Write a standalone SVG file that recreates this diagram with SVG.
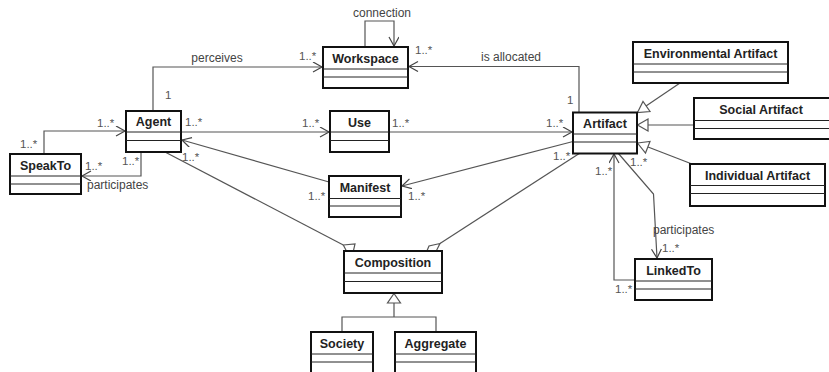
<svg xmlns="http://www.w3.org/2000/svg" width="829" height="372" viewBox="0 0 829 372">
<style>
.box{fill:#fff;stroke:#111;stroke-width:2}
.sep{stroke:#222;stroke-width:1}
.name{font-family:"Liberation Sans",Arial,sans-serif;font-weight:bold;font-size:12.5px;fill:#222;text-anchor:middle}
.lbl{font-family:"Liberation Sans",Arial,sans-serif;font-size:12px;fill:#444}
.mul{font-family:"Liberation Sans",Arial,sans-serif;font-size:11.5px;fill:#555}
.ln{fill:none;stroke:#555;stroke-width:1.2}
.gen{fill:#fff;stroke:#555;stroke-width:1.2}
</style>
<defs>
<marker id="open" markerWidth="12" markerHeight="12" refX="10" refY="5" orient="auto" markerUnits="userSpaceOnUse">
<path d="M1,0 L10,5 L1,10" fill="none" stroke="#444" stroke-width="1.2"/>
</marker>
</defs>
<rect width="829" height="372" fill="#fff"/>
<g id="connectors">
<path class="ln" d="M153,111 V67 H322" marker-end="url(#open)"/>
<path class="ln" d="M365,47 V21 H394 V46" marker-end="url(#open)"/>
<path class="ln" d="M579,112.5 V66.5 H409" marker-end="url(#open)"/>
<path class="ln" d="M181,132 H329" marker-end="url(#open)"/>
<path class="ln" d="M389,132 H572" marker-end="url(#open)"/>
<path class="ln" d="M329,182 L182,140" marker-end="url(#open)"/>
<path class="ln" d="M573,141.5 L402,186" marker-end="url(#open)"/>
<path class="ln" d="M165,152 L343.3,245"/>
<polygon class="gen" points="343.3,245 355,244 353.3,251.5 346.7,251.5"/>
<path class="ln" d="M580,153 L440,243.5"/>
<polygon class="gen" points="440,243.5 429,246 426.7,251.5 436,251.5"/>
<path class="ln" d="M618,153 L653.5,194 L657,258" marker-end="url(#open)"/>
<path class="ln" d="M635,280 H614 V154" marker-end="url(#open)"/>
<path class="ln" d="M44,154 V131 H125" marker-end="url(#open)"/>
<path class="ln" d="M141,152 V176 H82" marker-end="url(#open)"/>
<path class="ln" d="M680,83 L646,106"/>
<polygon class="gen" points="637.5,112.5 643,101.5 650,111.5"/>
<path class="ln" d="M694,125 H648"/>
<polygon class="gen" points="637.5,125 648,119 648,131"/>
<path class="ln" d="M692,164 L648,147"/>
<polygon class="gen" points="637.5,143 650,141.5 645.5,153"/>
<path class="ln" d="M394,303 V317 M342,332 V317 H436 V332"/>
<polygon class="gen" points="394,293.5 400.5,303 387.5,303"/>
</g>
<g id="labels">
<text class="lbl" x="217" y="62" text-anchor="middle">perceives</text>
<text class="lbl" x="382" y="17" text-anchor="middle">connection</text>
<text class="lbl" x="511" y="61" text-anchor="middle">is allocated</text>
<text class="lbl" x="87" y="189">participates</text>
<text class="lbl" x="653" y="234">participates</text>
<text class="mul" x="165" y="99">1</text>
<text class="mul" x="299" y="60">1..*</text>
<text class="mul" x="415" y="54">1..*</text>
<text class="mul" x="567" y="104">1</text>
<text class="mul" x="185" y="126">1..*</text>
<text class="mul" x="302" y="127">1..*</text>
<text class="mul" x="392" y="127">1..*</text>
<text class="mul" x="546" y="127">1..*</text>
<text class="mul" x="97" y="127">1..*</text>
<text class="mul" x="20" y="148">1..*</text>
<text class="mul" x="122" y="165">1..*</text>
<text class="mul" x="85" y="170">1..*</text>
<text class="mul" x="182" y="161">1..*</text>
<text class="mul" x="308" y="200">1..*</text>
<text class="mul" x="408" y="200">1..*</text>
<text class="mul" x="553" y="160">1..*</text>
<text class="mul" x="595" y="175">1..*</text>
<text class="mul" x="630" y="166">1..*</text>
<text class="mul" x="662" y="252">1..*</text>
<text class="mul" x="615" y="293">1..*</text>
</g>
<g id="Agent"><rect class="box" x="126" y="111" width="55" height="41"/><line class="sep" x1="126" y1="132" x2="181" y2="132"/><line class="sep" x1="126" y1="140.5" x2="181" y2="140.5"/><text class="name" x="153.5" y="126">Agent</text></g>
<g id="SpeakTo"><rect class="box" x="10" y="154" width="71" height="40"/><line class="sep" x1="10" y1="176" x2="81" y2="176"/><line class="sep" x1="10" y1="184" x2="81" y2="184"/><text class="name" x="45.5" y="170">SpeakTo</text></g>
<g id="Workspace"><rect class="box" x="323" y="47" width="85" height="41"/><line class="sep" x1="323" y1="69" x2="408" y2="69"/><line class="sep" x1="323" y1="77" x2="408" y2="77"/><text class="name" x="365.5" y="63">Workspace</text></g>
<g id="Use"><rect class="box" x="330" y="111" width="59" height="41"/><line class="sep" x1="330" y1="132" x2="389" y2="132"/><line class="sep" x1="330" y1="140.5" x2="389" y2="140.5"/><text class="name" x="359.5" y="127">Use</text></g>
<g id="Manifest"><rect class="box" x="329" y="176" width="72" height="41"/><line class="sep" x1="329" y1="198.5" x2="401" y2="198.5"/><line class="sep" x1="329" y1="206" x2="401" y2="206"/><text class="name" x="365" y="192">Manifest</text></g>
<g id="Artifact"><rect class="box" x="573" y="112.5" width="64" height="41"/><line class="sep" x1="573" y1="134" x2="637" y2="134"/><line class="sep" x1="573" y1="142" x2="637" y2="142"/><text class="name" x="605" y="128">Artifact</text></g>
<g id="EnvironmentalArtifact"><rect class="box" x="633" y="42" width="155" height="41"/><line class="sep" x1="633" y1="64" x2="788" y2="64"/><line class="sep" x1="633" y1="72" x2="788" y2="72"/><text class="name" x="710.5" y="58">Environmental Artifact</text></g>
<g id="SocialArtifact"><rect class="box" x="694" y="98" width="140" height="41"/><line class="sep" x1="694" y1="120.5" x2="834" y2="120.5"/><line class="sep" x1="694" y1="128.5" x2="834" y2="128.5"/><text class="name" x="761" y="114">Social Artifact</text></g>
<g id="IndividualArtifact"><rect class="box" x="690" y="164" width="135" height="42"/><line class="sep" x1="690" y1="185.5" x2="825" y2="185.5"/><line class="sep" x1="690" y1="193.5" x2="825" y2="193.5"/><text class="name" x="757.5" y="180">Individual Artifact</text></g>
<g id="LinkedTo"><rect class="box" x="635" y="259" width="77" height="41"/><line class="sep" x1="635" y1="281" x2="712" y2="281"/><line class="sep" x1="635" y1="289" x2="712" y2="289"/><text class="name" x="673.5" y="275">LinkedTo</text></g>
<g id="Composition"><rect class="box" x="344" y="251" width="98" height="42"/><line class="sep" x1="344" y1="273" x2="442" y2="273"/><line class="sep" x1="344" y1="281.5" x2="442" y2="281.5"/><text class="name" x="393" y="267">Composition</text></g>
<g id="Society"><rect class="box" x="311" y="332" width="62" height="46"/><line class="sep" x1="311" y1="354" x2="373" y2="354"/><line class="sep" x1="311" y1="362" x2="373" y2="362"/><text class="name" x="342" y="348">Society</text></g>
<g id="Aggregate"><rect class="box" x="395" y="332" width="81" height="46"/><line class="sep" x1="395" y1="354" x2="476" y2="354"/><line class="sep" x1="395" y1="362" x2="476" y2="362"/><text class="name" x="435.5" y="348">Aggregate</text></g>
</svg>
